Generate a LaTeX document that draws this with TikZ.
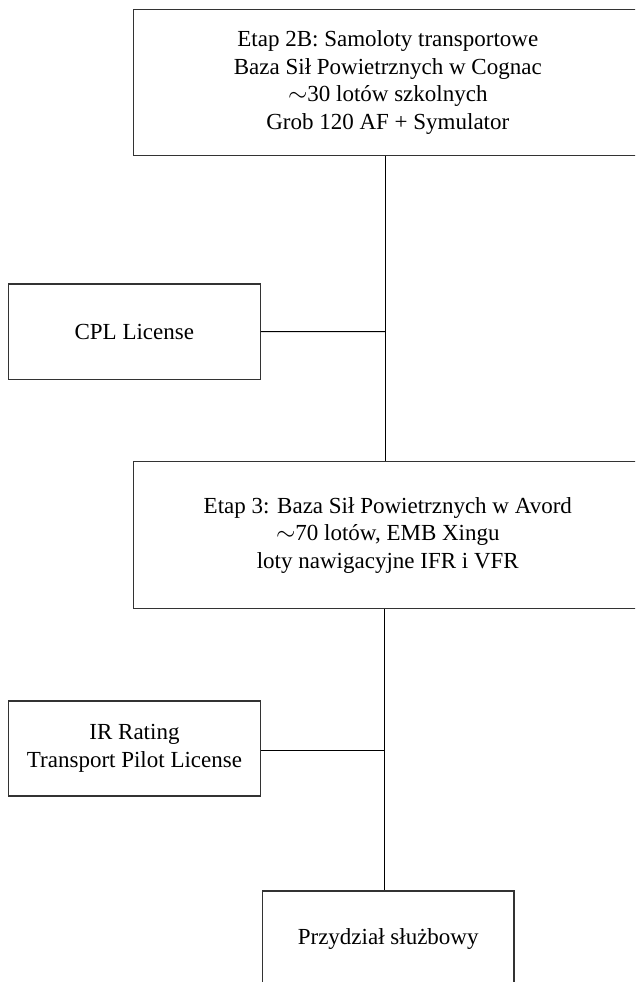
\documentclass[tikz,border=0pt]{standalone}
\usepackage{fontspec}
\setmainfont{Liberation Serif}
\begin{document}
\begin{tikzpicture}[x=1pt,y=-1pt,
  box/.style={draw=black!80,line width=1.3pt,rectangle,inner sep=0pt,align=center,
    font=\fontsize{23}{27.5}\selectfont},
  conn/.style={draw=black,line width=1pt}]
\useasboundingbox (0,0) rectangle (635,982);
\clip (0,0) rectangle (635,982);
\node[box,minimum width=508pt,minimum height=146.4pt] (top) at (387.8,82.5)
  {Etap 2B: Samoloty transportowe\\Baza Sił Powietrznych w Cognac\\$\sim$30 lotów szkolnych\\Grob 120 AF + Symulator};
\node[box,minimum width=252pt,minimum height=95.3pt] (cpl) at (134.3,331.7) {CPL License};
\node[box,minimum width=508pt,minimum height=147pt] (et3) at (387.8,535.2)
  {Etap 3: Baza Sił Powietrznych w Avord\\$\sim$70 lotów, EMB Xingu\\loty nawigacyjne IFR i VFR};
\node[box,minimum width=251.6pt,minimum height=95pt] (ir) at (134.5,748.5)
  {IR Rating\\Transport Pilot License};
\node[box,minimum width=251.7pt,minimum height=95pt] (przy) at (388.2,938.5) {Przydział służbowy};
\coordinate (j1) at (385,331.5);
\coordinate (j2) at (384.5,750);
\draw[conn] (top.south -| j1) -- (et3.north -| j1);
\draw[conn] (cpl.east) -- (j1);
\draw[conn] (et3.south -| j2) -- (przy.north -| j2);
\draw[conn] (ir.east |- j2) -- (j2);
\end{tikzpicture}
\end{document}
